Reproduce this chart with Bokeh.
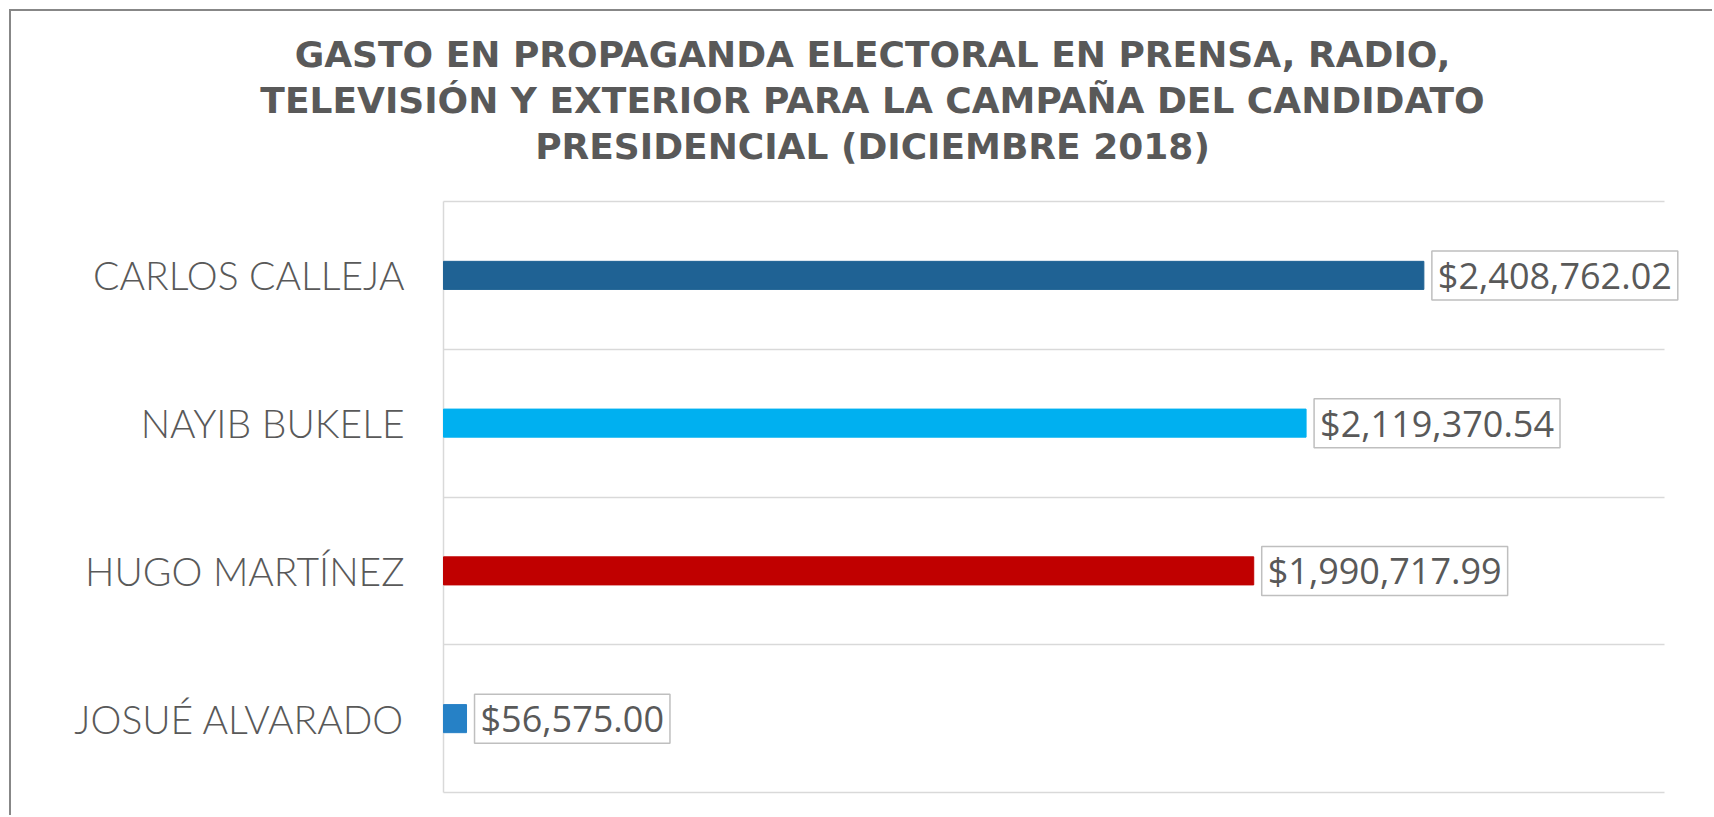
from bokeh.plotting import figure
from bokeh.models import Range1d, FixedTicker, ColumnDataSource
from bokeh.core.properties import value
from bokeh.embed import file_html
from bokeh.resources import INLINE

# ---- data (bottom to top) ----
candidates = ["JOSUÉ ALVARADO", "HUGO MARTÍNEZ", "NAYIB BUKELE", "CARLOS CALLEJA"]
spending = [56575.00, 1990717.99, 2119370.54, 2408762.02]
bar_colors = ["#2681C6", "#C00000", "#00B0F0", "#1F6294"]
x_axis_max = 3000000
title_lines = [
    "GASTO EN PROPAGANDA ELECTORAL EN PRENSA, RADIO,",
    "TELEVISIÓN Y EXTERIOR PARA LA CAMPAÑA DEL CANDIDATO",
    "PRESIDENCIAL (DICIEMBRE 2018)",
]

TEXT = "#595959"
GRID = "#D9D9D9"
n = len(candidates)

y_centers = [i + 0.5 for i in range(n)]
labels = ["${:,.2f}".format(v) for v in spending]
src = ColumnDataSource(dict(y=y_centers, v=spending, c=bar_colors,
                            lab=labels, cand=candidates, zero=[0] * n))

# ---- layout in canvas pixels ----
W, H = 1703, 806
plot_left, grid_right = 432, 1653        # value axis 0 .. x_axis_max
plot_top, plot_bottom = 190, 781         # category band top / bottom
px_per_x = (grid_right - plot_left) / x_axis_max
px_per_y = (plot_bottom - plot_top) / n

def x_of(px):
    return (px - plot_left) / px_per_x

def y_of(py):
    return (plot_bottom - py) / px_per_y

p = figure(width=W, height=H, output_backend="svg", toolbar_location=None,
           x_range=Range1d(x_of(0), x_of(W)), y_range=Range1d(y_of(H), y_of(0)),
           min_border_left=0, min_border_right=0,
           min_border_top=0, min_border_bottom=0)
p.outline_line_color = None
p.background_fill_color = "white"
p.border_fill_color = "white"
p.xaxis.visible = False
p.yaxis.visible = False

# category separators and value-axis line
p.ygrid.ticker = FixedTicker(ticks=list(range(n + 1)))
p.ygrid.grid_line_color = GRID
p.ygrid.grid_line_width = 1.5
p.ygrid.cross_bounds = (0, x_axis_max)
p.xgrid.ticker = FixedTicker(ticks=[0])
p.xgrid.grid_line_color = GRID
p.xgrid.grid_line_width = 1.5
p.xgrid.cross_bounds = (0, n)

p.hbar(y="y", left=0, right="v", height=0.19, color="c", source=src)

# value labels in boxes
p.text(x="v", y="y", text="lab", source=src, x_offset=8,
       text_align="left", text_baseline="middle",
       text_font=value("Open Sans"), text_font_size="36px", text_color=TEXT,
       background_fill_color="white", border_line_color="#BFBFBF",
       border_line_width=1.5, padding=dict(left=6, right=6, top=0, bottom=0))

# category labels
p.text(x="zero", y="y", text="cand", source=src, x_offset=-39,
       text_align="right", text_baseline="middle",
       text_font=value("'Lato Light', 'Open Sans'"), text_font_size="39px",
       text_color=TEXT)

# title (three centred lines)
title_cx = 861
title_cy = [43, 89, 135]
p.text(x=[x_of(title_cx)] * len(title_lines), y=[y_of(c) for c in title_cy],
       text=title_lines, text_align="center", text_baseline="middle",
       text_font=value("DejaVu Sans"), text_font_style="bold",
       text_font_size="36px", text_color=TEXT)

p.margin = (9, 0, 0, 9)
p.styles = {"border-top": "2px solid #878787", "border-left": "2px solid #878787",
            "border-right": "none", "border-bottom": "none"}

open("out.html", "w").write(file_html(p, INLINE))
